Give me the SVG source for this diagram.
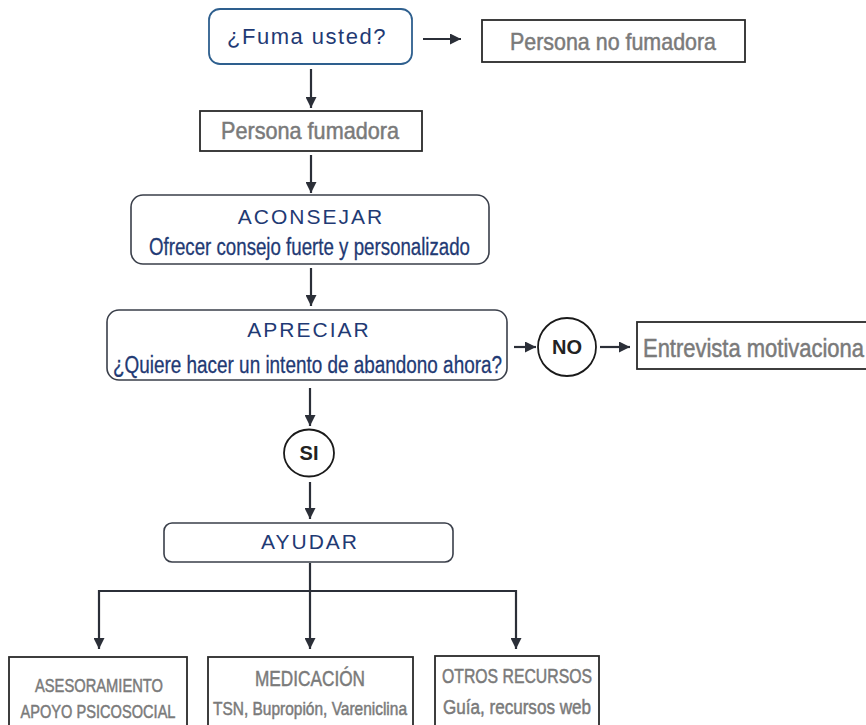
<svg xmlns="http://www.w3.org/2000/svg" width="866" height="725" viewBox="0 0 866 725">
<defs>
<style>
.rbox{fill:#fff;stroke:#3a3f4a;stroke-width:1.6}
.qbox{fill:#fff;stroke:#2e5f8e;stroke-width:1.8}
.sbox{fill:#fff;stroke:#2a2a2a;stroke-width:1.8}
.circ{fill:#fff;stroke:#1a1a1a;stroke-width:1.8}
.navy{font-family:"Liberation Sans",Arial,sans-serif;fill:#1f3a74}
.thick{stroke:#1f3a74;stroke-width:0.3}
.wide{letter-spacing:2px}
.gray{font-family:"Liberation Sans",Arial,sans-serif;fill:#7a7a7a;stroke:#7a7a7a;stroke-width:0.5}
.bold{font-family:"Liberation Sans",Arial,sans-serif;font-weight:bold;fill:#222}
.conn{fill:none;stroke:#2b2f38;stroke-width:2.2}
</style>
<marker id="ah" viewBox="0 0 10 10" refX="10" refY="5" markerWidth="5" markerHeight="5" markerUnits="strokeWidth" orient="auto">
<path d="M0,0 L10,5 L0,10 z" fill="#2b2f38"/>
</marker>
</defs>
<rect width="866" height="725" fill="#fff"/>

<g id="connectors">
<line class="conn" x1="423" y1="39" x2="461" y2="39" marker-end="url(#ah)"/>
<line class="conn" x1="311" y1="69" x2="311" y2="108" marker-end="url(#ah)"/>
<line class="conn" x1="311" y1="155" x2="311" y2="193" marker-end="url(#ah)"/>
<line class="conn" x1="311" y1="268" x2="311" y2="306" marker-end="url(#ah)"/>
<line class="conn" x1="514" y1="347" x2="536" y2="347" marker-end="url(#ah)"/>
<line class="conn" x1="600" y1="347" x2="630" y2="347" marker-end="url(#ah)"/>
<line class="conn" x1="310" y1="388" x2="310" y2="426" marker-end="url(#ah)"/>
<line class="conn" x1="310" y1="482" x2="310" y2="519" marker-end="url(#ah)"/>
<polyline class="conn" points="310,563 310,591"/>
<line class="conn" x1="98" y1="591" x2="517" y2="591"/>
<line class="conn" x1="99" y1="590" x2="99" y2="649" marker-end="url(#ah)"/>
<line class="conn" x1="310" y1="591" x2="310" y2="649" marker-end="url(#ah)"/>
<line class="conn" x1="516" y1="590" x2="516" y2="649" marker-end="url(#ah)"/>
</g>

<g id="fuma">
<rect class="qbox" x="209" y="9" width="203" height="55" rx="11"/>
<text class="navy" x="307" y="44" font-size="22" letter-spacing="1.5" text-anchor="middle">¿Fuma usted?</text>
</g>

<g id="no-fumadora">
<rect class="sbox" x="482" y="20" width="263" height="42"/>
<text class="gray" x="613" y="50" font-size="24" text-anchor="middle" textLength="206" lengthAdjust="spacingAndGlyphs">Persona no fumadora</text>
</g>

<g id="fumadora">
<rect class="sbox" x="200" y="111" width="222" height="40"/>
<text class="gray" x="310" y="139" font-size="24" text-anchor="middle" textLength="178" lengthAdjust="spacingAndGlyphs">Persona fumadora</text>
</g>

<g id="aconsejar">
<rect class="rbox" x="131" y="195" width="358" height="69" rx="12"/>
<text class="navy wide" x="311" y="224" font-size="21" text-anchor="middle">ACONSEJAR</text>
<text class="navy thick" x="309.5" y="255" font-size="23.5" text-anchor="middle" textLength="321" lengthAdjust="spacingAndGlyphs">Ofrecer consejo fuerte y personalizado</text>
</g>

<g id="apreciar">
<rect class="rbox" x="107" y="310" width="400" height="70" rx="12"/>
<text class="navy wide" x="309" y="337" font-size="21" text-anchor="middle">APRECIAR</text>
<text class="navy thick" x="307.5" y="373" font-size="23.5" text-anchor="middle" textLength="389" lengthAdjust="spacingAndGlyphs">¿Quiere hacer un intento de abandono ahora?</text>
</g>

<g id="no">
<circle class="circ" cx="567" cy="347" r="29"/>
<text class="bold" x="567" y="354" font-size="20" text-anchor="middle">NO</text>
</g>

<g id="entrevista">
<rect class="sbox" x="637" y="322" width="260" height="47"/>
<text class="gray" x="643" y="357" font-size="25" textLength="221" lengthAdjust="spacingAndGlyphs">Entrevista motivaciona</text>
</g>

<g id="si">
<ellipse class="circ" cx="309" cy="453" rx="25" ry="23.5"/>
<text class="bold" x="309" y="460" font-size="20" text-anchor="middle">SI</text>
</g>

<g id="ayudar">
<rect class="rbox" x="164" y="523" width="289" height="39" rx="8"/>
<text class="navy wide" x="310" y="549" font-size="21" text-anchor="middle">AYUDAR</text>
</g>

<g id="asesoramiento">
<rect class="sbox" x="9" y="657" width="178" height="90"/>
<text class="gray" x="99" y="692" font-size="18.5" text-anchor="middle" textLength="128" lengthAdjust="spacingAndGlyphs">ASESORAMIENTO</text>
<text class="gray" x="98" y="718" font-size="18.5" text-anchor="middle" textLength="155" lengthAdjust="spacingAndGlyphs">APOYO PSICOSOCIAL</text>
</g>

<g id="medicacion">
<rect class="sbox" x="208" y="657" width="205" height="90"/>
<text class="gray" x="310" y="686" font-size="22" text-anchor="middle" textLength="110" lengthAdjust="spacingAndGlyphs">MEDICACIÓN</text>
<text class="gray" x="310" y="715" font-size="18.5" text-anchor="middle" textLength="194" lengthAdjust="spacingAndGlyphs">TSN, Bupropión, Vareniclina</text>
</g>

<g id="otros">
<rect class="sbox" x="435" y="656" width="164" height="90"/>
<text class="gray" x="517" y="683" font-size="20" text-anchor="middle" textLength="150" lengthAdjust="spacingAndGlyphs">OTROS RECURSOS</text>
<text class="gray" x="517" y="714" font-size="20" text-anchor="middle" textLength="148" lengthAdjust="spacingAndGlyphs">Guía, recursos web</text>
</g>
</svg>
